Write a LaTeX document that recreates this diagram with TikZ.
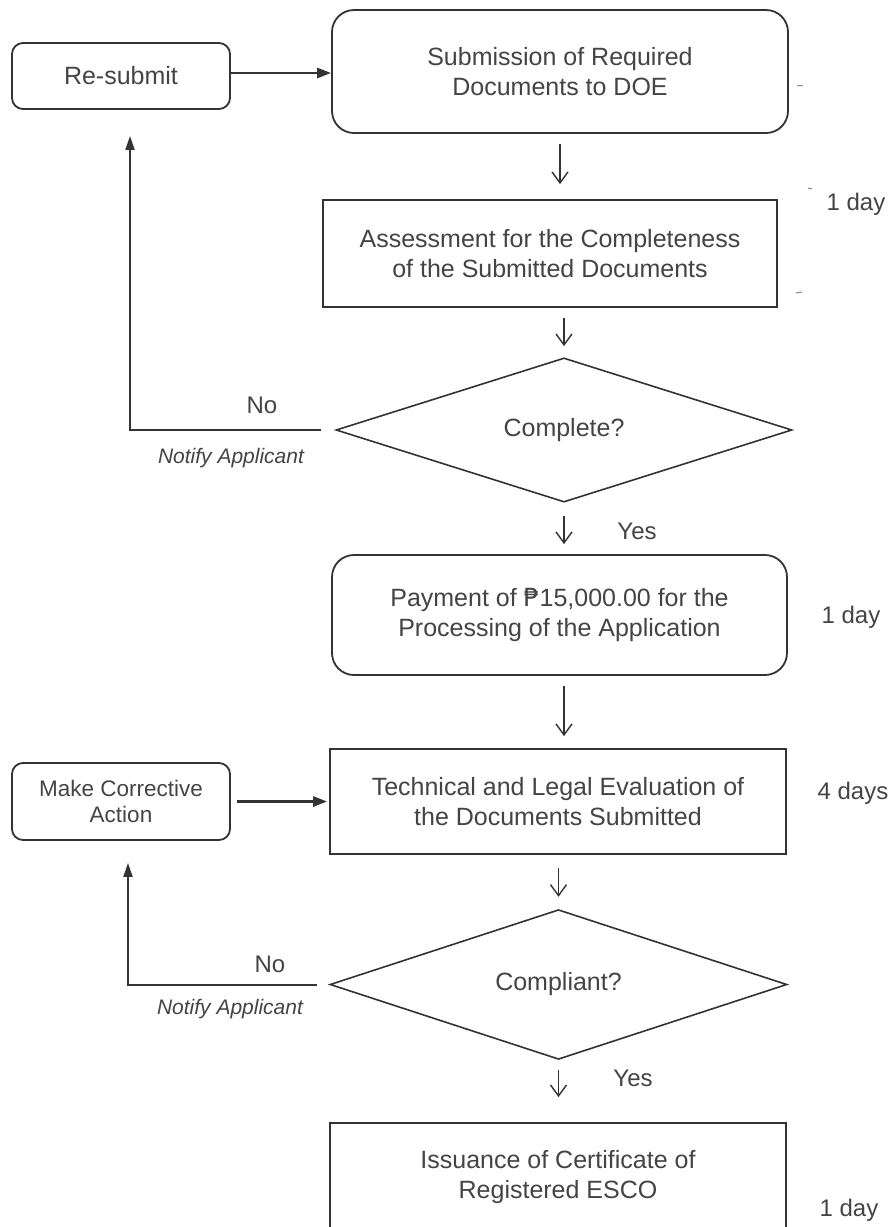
\documentclass[tikz,border=0pt]{standalone}
\usepackage{fontspec}
\setmainfont{Liberation Sans}
\newfontfamily\pesofont{DejaVu Sans}
\usetikzlibrary{shapes.geometric,arrows.meta}
\definecolor{ink}{HTML}{333333}
\definecolor{txt}{HTML}{444444}
\tikzset{
  every node/.style={text=txt, font=\fontsize{25}{30}\selectfont},
  box/.style={draw=ink, line width=1.8pt, fill=white, align=center, inner sep=0pt},
  rbox/.style={box, rounded corners=22pt},
  sbox/.style={box, rounded corners=11pt, font=\fontsize{22.5}{26}\selectfont},
  dec/.style={draw=ink, line width=1.6pt, shape=diamond, inner sep=0pt, align=center},
  down/.style={draw=ink, line width=1.4pt, -{Straight Barb[length=11pt,width=16pt,line width=1.4pt]}},
  side/.style={draw=ink, line width=2.6pt, -{Triangle[length=14pt,width=10pt]}},
  back/.style={draw=ink, line width=2pt, -{Triangle[length=14pt,width=9pt]}},
  lbl/.style={font=\fontsize{24}{28}\selectfont},
  note/.style={font=\fontsize{21}{25}\selectfont\itshape},
  speck/.style={draw=ink!60, line width=1pt}
}
\begin{document}
\begin{tikzpicture}[x=1pt,y=-1pt]
\useasboundingbox (0,0) rectangle (894,1227);
\clip (0,0) rectangle (894,1227);
\fill[white] (0,0) rectangle (894,1227);

\node[sbox, font=\fontsize{25}{30}\selectfont, minimum width=218pt, minimum height=66pt] (resub) at (121,76) {Re-submit};
\node[rbox, minimum width=456pt, minimum height=123pt] (submit) at (560,71.5) {Submission of Required\\Documents to DOE};
\node[box, minimum width=454pt, minimum height=107pt] (assess) at (550,253.5) {Assessment for the Completeness\\of the Submitted Documents};
\node[dec, minimum width=456pt, minimum height=114pt] (complete) at (564,430) {Complete?};
\node[rbox, minimum width=455pt, minimum height=120pt] (pay) at (559.5,615) {Payment of {\pesofont ₱}15,000.00 for the\\Processing of the Application};
\node[sbox, minimum width=218pt, minimum height=77pt] (correct) at (121,801.5) {Make Corrective\\Action};
\node[box, minimum width=456pt, minimum height=105pt] (tech) at (558,801.5) {Technical and Legal Evaluation of\\the Documents Submitted};
\node[dec, minimum width=457pt, minimum height=115pt] (comply) at (558.5,984.5) {Compliant?};
\node[box, minimum width=456pt, minimum height=109pt] (issue) at (558,1177.5) {Issuance of Certificate of\\Registered ESCO};

% vertical flow arrows
\draw[down, shorten <=10pt, shorten >=15pt] (submit.south) -- (submit.south |- assess.north);
\draw[down, shorten <=10pt, shorten >=11pt] (assess.south -| complete.north) -- (complete.north);
\draw[down, shorten <=13pt, shorten >=10pt] (complete.south) -- (complete.south |- pay.north);
\draw[down, shorten <=10pt, shorten >=12pt] (pay.south -| complete.south) -- (complete.south |- tech.north);
\draw[down, shorten <=13pt, shorten >=12pt] (tech.south -| comply.north) -- (comply.north);
\draw[down, shorten <=10pt, shorten >=25pt] (comply.south) -- (comply.south |- issue.north);

% side arrows
\coordinate (rsE) at ([yshift=3pt]resub.east);
\draw[side] (rsE) -- (submit.west |- rsE);
\draw[side, shorten <=6pt, shorten >=2pt] (correct.east) -- (tech.west |- correct.east);

% back arrows
\draw[back, shorten <=14pt, shorten >=26pt] (complete.west) -| ([xshift=9pt]resub.south);
\draw[back, shorten <=12pt, shorten >=22pt] (comply.west) -| ([xshift=7pt]correct.south);

% labels
\node[lbl] (no1) at (262,405) {No};
\node[note] (notify1) at (231,458) {Notify Applicant};
\node[lbl] (yes1) at (637,531) {Yes};
\node[lbl] (no2) at (270,964) {No};
\node[note] (notify2) at (230,1009) {Notify Applicant};
\node[lbl] (yes2) at (633,1078) {Yes};

\node[lbl] (d1) at (856,204) {1 day};
\node[lbl] (d2) at (851,617) {1 day};
\node[lbl] (d3) at (853,793) {4 days};
\node[lbl] (d4) at (849,1210) {1 day};

% stray marks
\draw[speck] (797,85) -- (803,85);
\draw[speck] (808,188) -- (812,189);
\draw[speck] (796,293) -- (802,292);
\end{tikzpicture}
\end{document}
